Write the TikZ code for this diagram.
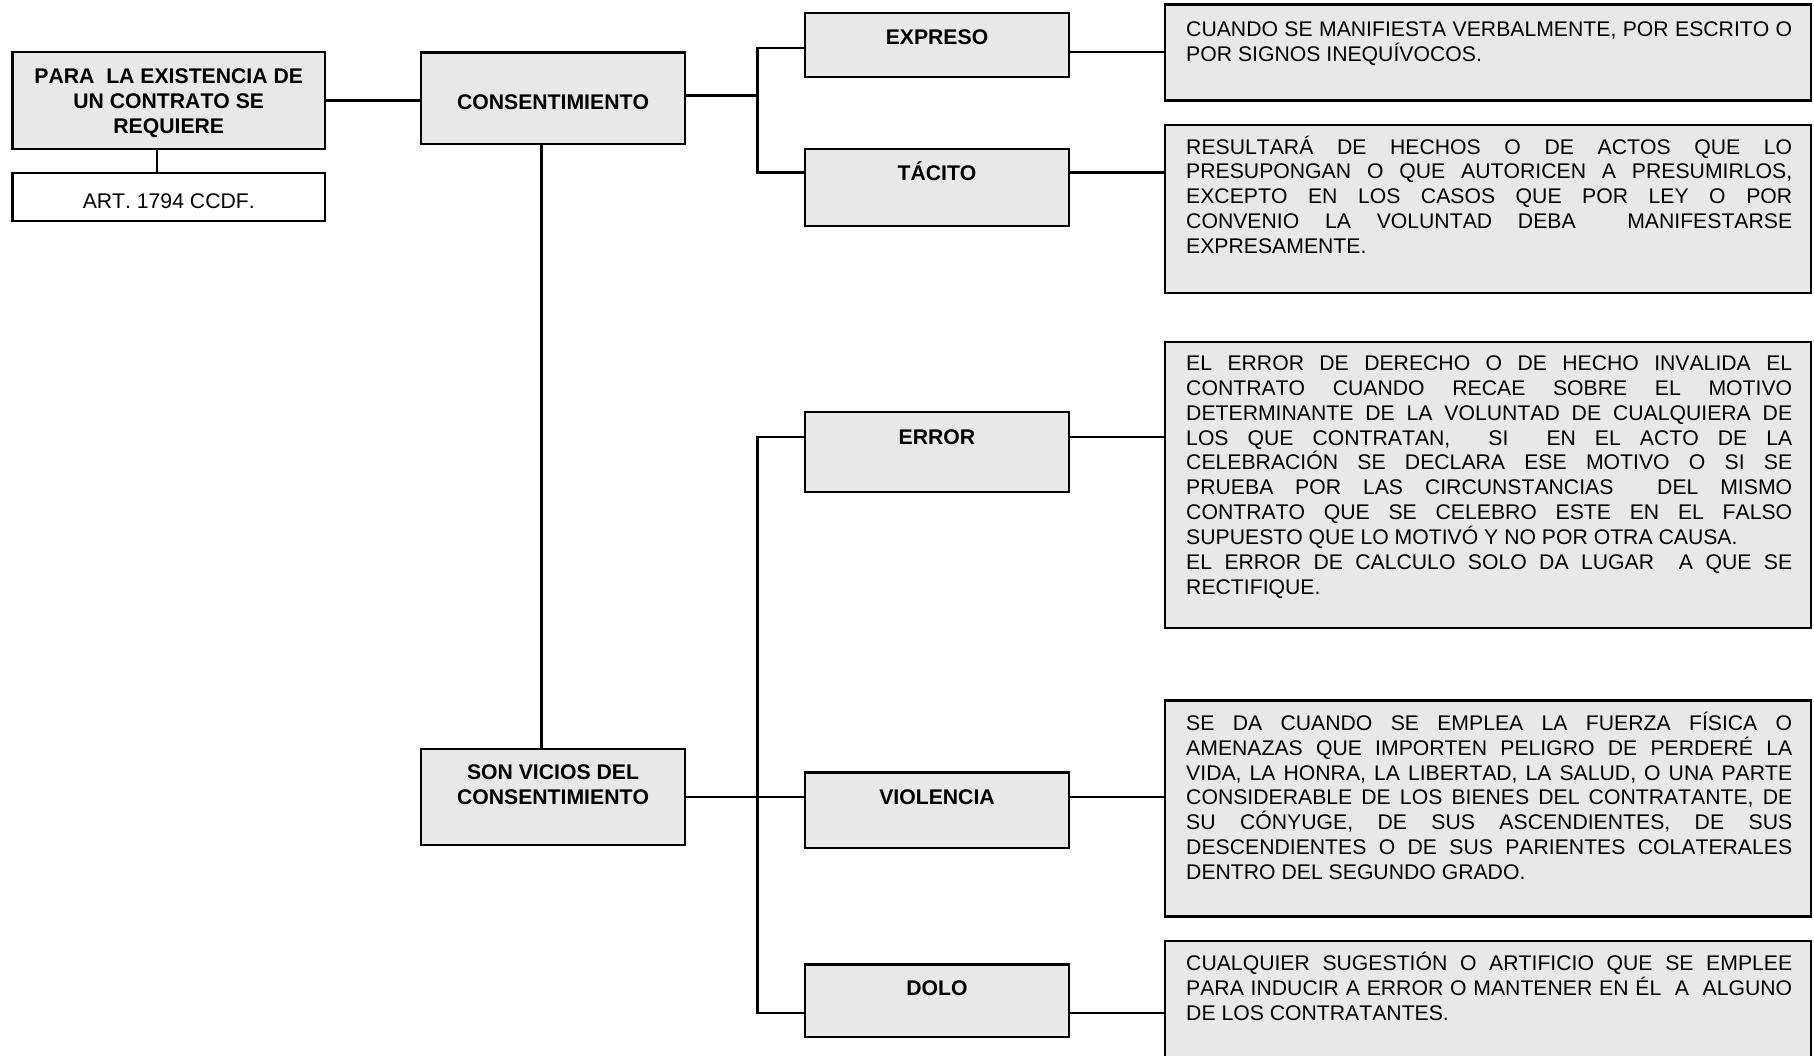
\documentclass[tikz,border=0pt]{standalone}
\usepackage{fontspec}
\setmainfont{Liberation Sans}[Kerning=Off]
\definecolor{boxgray}{RGB}{232,232,232}
\newcommand{\jline}[1]{\hbox to \linewidth{#1}}
\newcommand{\lline}[1]{\hbox{#1}}
\tikzset{
  box/.style={draw=black, line width=2.6pt, fill=boxgray, inner sep=0pt},
  whitebox/.style={draw=black, line width=2.6pt, fill=white, inner sep=0pt},
  conn/.style={draw=black, line width=2.4pt},
  lbl/.style={anchor=base, inner sep=0pt, font=\bfseries\fontsize{21.2}{25}\selectfont},
  rlbl/.style={anchor=base, inner sep=0pt, font=\fontsize{21.2}{25}\selectfont},
  desctext/.style={anchor=base west, inner sep=0pt, font=\fontsize{21.2}{24.8}\selectfont}
}
\begin{document}
\begin{tikzpicture}[x=1pt,y=-1pt]
\useasboundingbox (0,0) rectangle (1814,1056);
\fill[white] (0,0) rectangle (1814,1056);

% left boxes
\node[box, minimum width=312.5pt, minimum height=97pt] (para) at (168.75,100.5) {};
\node[whitebox, minimum width=312.5pt, minimum height=48pt] (art) at (168.75,197) {};
\node[box, minimum width=264pt, minimum height=91.5pt] (consent) at (553,98.25) {};
\node[box, minimum width=264pt, minimum height=96pt] (son) at (553,797) {};

% middle boxes
\node[box, minimum width=264pt, minimum height=64pt] (expreso) at (937,45) {};
\node[box, minimum width=264pt, minimum height=77pt] (tacito) at (937,187.5) {};
\node[box, minimum width=264pt, minimum height=80pt] (error) at (937,452) {};
\node[box, minimum width=264pt, minimum height=75.5pt] (violencia) at (937,810.25) {};
\node[box, minimum width=264pt, minimum height=72.5pt] (dolo) at (937,1000.75) {};

% description boxes
\node[box, minimum width=646pt, minimum height=96pt] (expd) at (1488,52.7) {};
\node[box, minimum width=646pt, minimum height=168pt] (tacd) at (1488,209) {};
\node[box, minimum width=646pt, minimum height=286pt] (errd) at (1488,485) {};
\node[box, minimum width=646pt, minimum height=216pt] (viold) at (1488,808.7) {};
\node[box, minimum width=646pt, minimum height=134pt] (dolod) at (1488,1008) {};

% junction coordinates
\coordinate (pa) at (157,0);
\coordinate (cb) at (541.5,0);
\coordinate (ju0) at (757.3,95.7);
\coordinate (ju1) at (757.3,48);
\coordinate (ju2) at (757.3,172.7);
\coordinate (ce) at (0,52.3);
\coordinate (je) at (757.3,436.7);
\coordinate (jd) at (757.3,1013);

% connectors
\draw[conn] (para.east) -- (consent.west |- para.east);
\draw[conn] (para.south -| pa) -- (art.north -| pa);
\draw[conn] (consent.east |- ju0) -- (ju0);
\draw[conn] (expreso.west |- ju1) -- (ju1) -- (ju2) -- (tacito.west |- ju2);
\draw[conn] (expreso.east |- ce) -- (expd.west |- ce);
\draw[conn] (tacito.east |- ju2) -- (tacd.west |- ju2);
\draw[conn] (consent.south -| cb) -- (son.north -| cb);
\draw[conn] (error.west |- je) -- (je) -- (jd) -- (dolo.west |- jd);
\draw[conn] (son.east) -- (violencia.west |- son.east);
\draw[conn] (error.east |- je) -- (errd.west |- je);
\draw[conn] (violencia.east |- son.east) -- (viold.west |- son.east);
\draw[conn] (dolo.east |- jd) -- (dolod.west |- jd);

% labels
\node[lbl] (t-para) at (168.75,83.5) {\parbox[t]{300pt}{\centering\fontsize{21.2}{25}\selectfont PARA\ \ LA EXISTENCIA DE\\UN CONTRATO SE\\REQUIERE}};
\node[rlbl] (t-art) at (168.75,208.6) {ART. 1794 CCDF.};
\node[lbl] (t-consent) at (553,109.3) {CONSENTIMIENTO};
\node[lbl] (t-son) at (553,779.9) {\parbox[t]{260pt}{\centering\fontsize{21.2}{25}\selectfont SON VICIOS DEL\\CONSENTIMIENTO}};
\node[lbl] (t-expreso) at (937,44.3) {EXPRESO};
\node[lbl] (t-tacito) at (937,180.3) {TÁCITO};
\node[lbl] (t-error) at (937,444.3) {ERROR};
\node[lbl] (t-violencia) at (937,804.6) {VIOLENCIA};
\node[lbl] (t-dolo) at (937,995.6) {DOLO};

% description texts
\node[desctext] (d-expreso) at (1186,36.8) {\parbox[t]{606pt}{\fontsize{21.2}{24.8}\selectfont
\jline{CUANDO SE MANIFIESTA VERBALMENTE, POR ESCRITO O}
\lline{POR SIGNOS INEQUÍVOCOS.}}};

\node[desctext] (d-tacito) at (1186,154.2) {\parbox[t]{606pt}{\fontsize{21.2}{24.8}\selectfont
\jline{RESULTARÁ DE HECHOS O DE ACTOS QUE LO}
\jline{PRESUPONGAN O QUE AUTORICEN A PRESUMIRLOS,}
\jline{EXCEPTO EN LOS CASOS QUE POR LEY O POR}
\jline{CONVENIO LA VOLUNTAD DEBA\ \ MANIFESTARSE}
\lline{EXPRESAMENTE.}}};

\node[desctext] (d-error) at (1186,370.8) {\parbox[t]{606pt}{\fontsize{21.2}{24.8}\selectfont
\jline{EL ERROR DE DERECHO O DE HECHO INVALIDA EL}
\jline{CONTRATO CUANDO RECAE SOBRE EL MOTIVO}
\jline{DETERMINANTE DE LA VOLUNTAD DE CUALQUIERA DE}
\jline{LOS QUE CONTRATAN,\ \ SI\ \ EN EL ACTO DE LA}
\jline{CELEBRACIÓN SE DECLARA ESE MOTIVO O SI SE}
\jline{PRUEBA POR LAS CIRCUNSTANCIAS\ \ DEL MISMO}
\jline{CONTRATO QUE SE CELEBRO ESTE EN EL FALSO}
\lline{SUPUESTO QUE LO MOTIVÓ Y NO POR OTRA CAUSA.}
\jline{EL ERROR DE CALCULO SOLO DA LUGAR\ \ A QUE SE}
\lline{RECTIFIQUE.}}};

\node[desctext] (d-violencia) at (1186,730.5) {\parbox[t]{606pt}{\fontsize{21.2}{24.8}\selectfont
\jline{SE DA CUANDO SE EMPLEA LA FUERZA FÍSICA O}
\jline{AMENAZAS QUE IMPORTEN PELIGRO DE PERDERÉ LA}
\jline{VIDA, LA HONRA, LA LIBERTAD, LA SALUD, O UNA PARTE}
\jline{CONSIDERABLE DE LOS BIENES DEL CONTRATANTE, DE}
\jline{SU CÓNYUGE, DE SUS ASCENDIENTES, DE SUS}
\jline{DESCENDIENTES O DE SUS PARIENTES COLATERALES}
\lline{DENTRO DEL SEGUNDO GRADO.}}};

\node[desctext] (d-dolo) at (1186,970.5) {\parbox[t]{606pt}{\fontsize{21.2}{24.8}\selectfont
\jline{CUALQUIER SUGESTIÓN O ARTIFICIO QUE SE EMPLEE}
\jline{PARA INDUCIR A ERROR O MANTENER EN ÉL\ \ A\ \ ALGUNO}
\lline{DE LOS CONTRATANTES.}}};
\end{tikzpicture}
\end{document}
